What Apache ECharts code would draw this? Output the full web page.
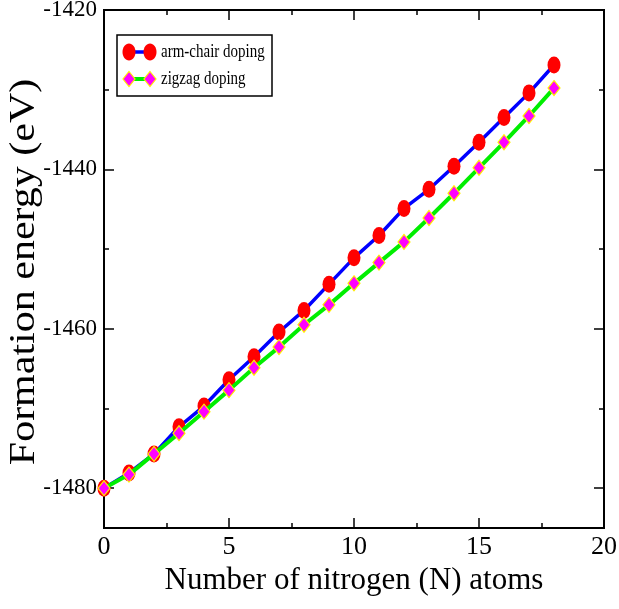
<!DOCTYPE html>
<html>
<head>
<meta charset="utf-8">
<script src="https://cdn.jsdelivr.net/npm/echarts@6/dist/echarts.min.js"></script>
<style>
html,body{margin:0;padding:0;background:#fff;}
#chart{width:619px;height:609px;}
</style>
</head>
<body>
<div id="chart"></div>
<script>
var nAtoms = [0,1,2,3,4,5,6,7,8,9,10,11,12,13,14,15,16,17,18];
var armChair = [-1480,-1478.1,-1475.7,-1472.3,-1469.7,-1466.4,-1463.5,-1460.4,-1457.7,-1454.4,-1451.1,-1448.3,-1444.9,-1442.5,-1439.6,-1436.6,-1433.5,-1430.4,-1426.9];
var zigzag = [-1480,-1478.3,-1475.7,-1473.1,-1470.4,-1467.7,-1464.9,-1462.3,-1459.5,-1457.0,-1454.3,-1451.7,-1449.1,-1446.1,-1443.0,-1439.8,-1436.6,-1433.3,-1429.8];
var yMajor = [-1480,-1460,-1440,-1420];
var yMinor = [-1470,-1450,-1430];
var seriesNames = ['arm-chair doping','zigzag doping'];
var xTitle = 'Number of nitrogen (N) atoms';
var yTitle = 'Formation energy (eV)';

var FONT = '"Liberation Serif","Times New Roman",serif';
var chart = echarts.init(document.getElementById('chart'), null, {renderer:'canvas'});

function pairs(xs, ys){ return xs.map(function(x,i){ return [x, ys[i]]; }); }

var yMin = -1485, yMax = -1420;
function yAx(pos, vals, len, showLabel){
  return {
    type:'value', position:pos, min:yMin, max:yMax, gridIndex:0,
    axisLine:{show:false},
    axisTick:{show:true, inside:true, length:len, customValues:vals, lineStyle:{color:'#000', width:1.5}},
    axisLabel:{show:showLabel, customValues:vals, fontFamily:FONT, fontSize:23, color:'#000', margin:7,
      formatter:function(v){ return String(v); }},
    splitLine:{show:false}
  };
}
function xAx(pos, showLabel, name){
  return {
    type:'value', position:pos, min:0, max:20, interval:5, gridIndex:0,
    axisLine:{show:false},
    axisTick:{show:true, inside:true, length:10, lineStyle:{color:'#000', width:1.5}},
    minorTick:{show:true, splitNumber:2, length:5, lineStyle:{color:'#000', width:1.5}},
    axisLabel:{show:showLabel, fontFamily:FONT, fontSize:26, color:'#000', margin:6},
    splitLine:{show:false}, minorSplitLine:{show:false},
    name: name || '', nameLocation:'middle', nameGap:34,
    nameTextStyle:{fontFamily:FONT, fontSize:31, color:'#000'}
  };
}

var legendX = 117, legendY = 35;
var option = {
  backgroundColor:'#fff',
  animation:false,
  grid:{left:104, right:15, top:10, bottom:81, show:true, borderColor:'#000', borderWidth:2, backgroundColor:'transparent', containLabel:false, outerBoundsMode:'none'},
  xAxis:[ xAx('bottom', true, xTitle), xAx('top', false) ],
  yAxis:[ yAx('left', yMajor, 10, true), yAx('left', yMinor, 5, false), yAx('right', yMajor, 10, false), yAx('right', yMinor, 5, false) ],
  series:[
    {name:seriesNames[0], type:'line', xAxisIndex:0, yAxisIndex:0, data:pairs(nAtoms, armChair),
      symbol:'circle', symbolSize:[13,17], itemStyle:{color:'#ff0000'}, lineStyle:{color:'#0000ff', width:3.5}, z:2},
    {name:seriesNames[1], type:'line', xAxisIndex:0, yAxisIndex:0, data:pairs(nAtoms, zigzag),
      symbol:'diamond', symbolSize:[12,15], itemStyle:{color:'#ff00ff', borderColor:'#ffee00', borderWidth:1.2}, lineStyle:{color:'#00ee00', width:4}, z:3}
  ],
  graphic:[
    {type:'text', x:25, y:272, rotation:Math.PI/2, scaleX:1.2, style:{text:yTitle, font:'35px '+FONT, fill:'#000', align:'center', verticalAlign:'middle'}, z:12},
    {type:'rect', shape:{x:legendX, y:legendY, width:155, height:61}, style:{fill:'#fff', stroke:'#000', lineWidth:1.5}, z:10},
    {type:'line', shape:{x1:129, y1:52, x2:150, y2:52}, style:{stroke:'#0000ff', lineWidth:3.5}, z:11},
    {type:'ellipse', shape:{cx:129, cy:52, rx:6.5, ry:8.5}, style:{fill:'#ff0000'}, z:12},
    {type:'ellipse', shape:{cx:150, cy:52, rx:6.5, ry:8.5}, style:{fill:'#ff0000'}, z:12},
    {type:'text', x:161, y:52, scaleY:1.2, style:{text:seriesNames[0], font:'15px '+FONT, fill:'#000', verticalAlign:'middle'}, z:12},
    {type:'line', shape:{x1:129, y1:79, x2:150, y2:79}, style:{stroke:'#00ee00', lineWidth:4}, z:11},
    {type:'polygon', shape:{points:[[129,71.5],[135,79],[129,86.5],[123,79]]}, style:{fill:'#ff00ff', stroke:'#ffee00', lineWidth:1.2}, z:12},
    {type:'polygon', shape:{points:[[150,71.5],[156,79],[150,86.5],[144,79]]}, style:{fill:'#ff00ff', stroke:'#ffee00', lineWidth:1.2}, z:12},
    {type:'text', x:161, y:79, scaleY:1.2, style:{text:seriesNames[1], font:'15px '+FONT, fill:'#000', verticalAlign:'middle'}, z:12}
  ]
};
chart.setOption(option);
</script>
</body>
</html>
